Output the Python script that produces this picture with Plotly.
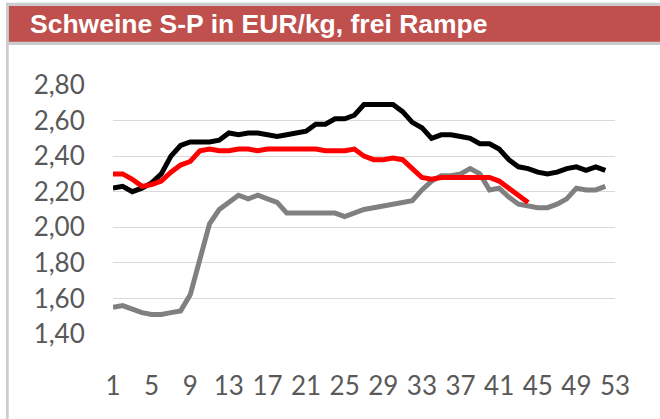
import plotly.graph_objects as go

weeks_black = list(range(1, 53))
black = [2.22, 2.23, 2.20, 2.22, 2.25, 2.30, 2.40, 2.46, 2.48, 2.48, 2.48, 2.49, 2.53, 2.52, 2.53,
         2.53, 2.52, 2.51, 2.52, 2.53, 2.54, 2.58, 2.58, 2.61, 2.61, 2.63, 2.69, 2.69, 2.69, 2.69,
         2.65, 2.59, 2.56, 2.50, 2.52, 2.52, 2.51, 2.50, 2.47, 2.47, 2.44, 2.38, 2.34, 2.33, 2.31,
         2.30, 2.31, 2.33, 2.34, 2.32, 2.34, 2.32]

weeks_red = list(range(1, 45))
red = [2.30, 2.30, 2.27, 2.23, 2.24, 2.26, 2.31, 2.35, 2.37, 2.43, 2.44, 2.43, 2.43, 2.44, 2.44,
       2.43, 2.44, 2.44, 2.44, 2.44, 2.44, 2.44, 2.43, 2.43, 2.43, 2.44, 2.40, 2.38, 2.38, 2.39,
       2.38, 2.33, 2.28, 2.27, 2.28, 2.28, 2.28, 2.28, 2.28, 2.28, 2.26, 2.22, 2.18, 2.14]

weeks_gray = list(range(1, 53))
gray = [1.55, 1.56, 1.54, 1.52, 1.51, 1.51, 1.52, 1.53, 1.62, 1.82, 2.02, 2.10, 2.14, 2.18, 2.16,
        2.18, 2.16, 2.14, 2.08, 2.08, 2.08, 2.08, 2.08, 2.08, 2.06, 2.08, 2.10, 2.11, 2.12, 2.13,
        2.14, 2.15, 2.21, 2.26, 2.29, 2.29, 2.30, 2.33, 2.30, 2.21, 2.22, 2.17, 2.13, 2.12, 2.11,
        2.11, 2.13, 2.16, 2.22, 2.21, 2.21, 2.23]

x_ticks = list(range(1, 54, 4))
y_ticks = [1.40, 1.60, 1.80, 2.00, 2.20, 2.40, 2.60, 2.80]
title_text = "Schweine S-P in EUR/kg, frei Rampe"

W, H = 660, 419
ML, MR, MT, MB = 113, 45, 85, 85
PW, PH = W - ML - MR, H - MT - MB


def px(xp):
    return (xp - ML) / PW


def py(yp):
    return (H - MB - yp) / PH


fig = go.Figure()
fig.add_trace(go.Scatter(x=weeks_gray, y=gray, mode="lines", name="Vorvorjahr",
                         line=dict(color="#808080", width=5)))
fig.add_trace(go.Scatter(x=weeks_black, y=black, mode="lines", name="Vorjahr",
                         line=dict(color="#000000", width=5)))
fig.add_trace(go.Scatter(x=weeks_red, y=red, mode="lines", name="Aktuell",
                         line=dict(color="#FF0000", width=5)))

tick_font = dict(family="Lato, 'Liberation Sans Narrow', sans-serif", size=26, color="#595959")

fig.update_layout(
    width=W, height=H,
    margin=dict(l=ML, r=MR, t=MT, b=MB),
    paper_bgcolor="white", plot_bgcolor="white",
    showlegend=False,
    separators=",.",
    xaxis=dict(range=[1, 53], tickvals=x_ticks, ticktext=[str(v) for v in x_ticks],
               showgrid=False, zeroline=False, showline=False,
               ticks="outside", ticklen=29, tickcolor="rgba(0,0,0,0)",
               tickfont=tick_font),
    yaxis=dict(range=[1.40, 2.80], tickvals=y_ticks, tickformat=".2f",
               showgrid=True, gridcolor="#D9D9D9", gridwidth=1.3,
               zeroline=False, showline=False,
               ticks="outside", ticklen=22, tickcolor="rgba(0,0,0,0)",
               tickfont=tick_font),
    shapes=[
        dict(type="rect", xref="paper", yref="paper", x0=px(6), x1=px(661), y0=py(45), y1=py(2.7),
             fillcolor="#CCCCCC", line=dict(width=0), layer="below"),
        dict(type="rect", xref="paper", yref="paper", x0=px(8.7), x1=px(661), y0=py(41.7), y1=py(6),
             fillcolor="#C0504D", line=dict(width=0), layer="below"),
        dict(type="rect", xref="paper", yref="paper", x0=px(6), x1=px(8.7), y0=py(420), y1=py(2.7),
             fillcolor="#CCCCCC", line=dict(width=0), layer="below"),
    ],
    annotations=[
        dict(text="<b>" + title_text + "</b>", xref="paper", yref="paper", x=px(28), y=py(24),
             xanchor="left", yanchor="middle", showarrow=False,
             font=dict(family="'Liberation Sans', Arial, sans-serif", size=26.5, color="white")),
    ],
)

fig.write_html("out.html", config={"displayModeBar": False},
               post_script="document.body.style.margin='0';")
